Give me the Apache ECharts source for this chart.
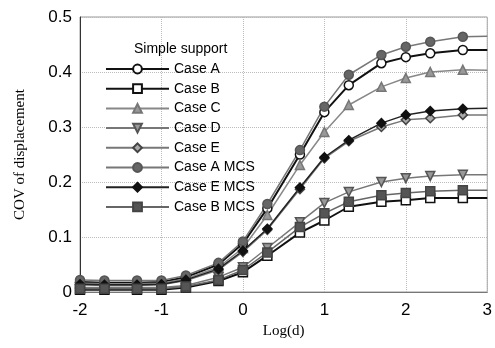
<!DOCTYPE html>
<html>
<head>
<meta charset="utf-8">
<script src="https://cdn.jsdelivr.net/npm/echarts@6/dist/echarts.min.js"></script>
<style>
html,body{margin:0;padding:0;background:#fff;}
#charts{width:495px;height:348px;}
</style>
</head>
<body>
<div id="charts"></div>
<script>
// log(d) positions
var xs = [-2,-1.7,-1.3,-1,-0.7,-0.3,0,0.3,0.7,1,1.3,1.7,2,2.3,2.7,3];
var caseA    = [0.018,0.017,0.017,0.018,0.027,0.050,0.088,0.152,0.250,0.327,0.376,0.416,0.427,0.434,0.440,0.440];
var caseB    = [0.004,0.004,0.004,0.004,0.008,0.020,0.036,0.066,0.108,0.130,0.155,0.164,0.167,0.171,0.171,0.171];
var caseC    = [0.016,0.015,0.015,0.016,0.024,0.045,0.080,0.140,0.231,0.291,0.340,0.373,0.389,0.400,0.404,0.403];
var caseD    = [0.008,0.008,0.008,0.008,0.012,0.027,0.045,0.080,0.127,0.162,0.182,0.200,0.207,0.211,0.213,0.213];
var caseE    = [0.013,0.012,0.012,0.013,0.021,0.040,0.073,0.113,0.187,0.243,0.274,0.300,0.313,0.316,0.322,0.322];
var caseAMCS = [0.022,0.021,0.021,0.021,0.030,0.053,0.092,0.160,0.258,0.337,0.395,0.431,0.446,0.455,0.464,0.465];
var caseEMCS = [0.014,0.013,0.013,0.014,0.022,0.042,0.075,0.115,0.190,0.245,0.276,0.307,0.322,0.329,0.333,0.334];
var caseBMCS = [0.006,0.006,0.006,0.006,0.010,0.022,0.040,0.072,0.118,0.143,0.164,0.176,0.180,0.183,0.185,0.185];
var yTicks = [0,0.1,0.2,0.3,0.4,0.5];
var xTicks = [-2,-1,0,1,2,3];

function pts(arr){
	var out = [];
	for(var i=0;i<xs.length;i++){
		var p = {value:[xs[i],arr[i]]};
		if(i==xs.length-1) p.symbol = 'none'; //last point has no marker
		out.push(p);
	}
	return out;
}

function mk(name,arr,symbol,lineColor,lineW,fill,border){
	return {
		name:name,
		type:'line',
		data:pts(arr),
		symbol:symbol,
		symbolSize:9,
		showAllSymbol:true,
		clip:true,
		lineStyle:{color:lineColor,width:lineW},
		itemStyle:{color:fill,borderColor:border,borderWidth:1.5},
		emphasis:{disabled:true}
	};
}

var downTri = 'path://M0,0 L10,0 L5,9 Z';

var charts = echarts.init(document.getElementById('charts'));
var option = {
	animation:false,
	backgroundColor:'#fff',
	title:{
		text:'Simple support',
		left:129,
		top:37,
		textStyle:{fontFamily:'Liberation Sans, Arial',fontSize:14,fontWeight:'normal',color:'#000'}
	},
	legend:{
		orient:'vertical',
		left:100,
		top:57,
		itemWidth:63,
		itemHeight:11,
		itemGap:5.7,
		textStyle:{fontFamily:'Liberation Sans, Arial',fontSize:14,color:'#000'},
		data:['Case A','Case B','Case C','Case D','Case E','Case A MCS','Case E MCS','Case B MCS']
	},
	grid:{
		left:80,
		right:5,
		top:17,
		bottom:56,
		show:true,
		borderColor:'#999',
		borderWidth:1
	},
	xAxis:{
		type:'value',
		min:xTicks[0],
		max:xTicks[xTicks.length-1],
		interval:1,
		name:'Log(d)',
		nameLocation:'middle',
		nameGap:30,
		nameTextStyle:{fontFamily:'Liberation Serif, Times New Roman',fontSize:15,color:'#000'},
		axisLine:{onZero:false,lineStyle:{color:'#777'}},
		axisTick:{show:false},
		axisLabel:{fontFamily:'Liberation Sans, Arial',fontSize:17,color:'#000',margin:10},
		splitLine:{show:true,lineStyle:{color:'#bbb',type:'dotted'}}
	},
	yAxis:{
		type:'value',
		min:yTicks[0],
		max:yTicks[yTicks.length-1],
		interval:0.1,
		name:'COV of displacement',
		nameLocation:'middle',
		nameGap:52,
		nameTextStyle:{fontFamily:'Liberation Serif, Times New Roman',fontSize:15,color:'#000'},
		axisLine:{show:true,onZero:false,lineStyle:{color:'#333'}},
		axisTick:{show:false},
		axisLabel:{fontFamily:'Liberation Sans, Arial',fontSize:17,color:'#000',margin:8},
		splitLine:{show:true,lineStyle:{color:'#bbb',type:'dotted'}}
	},
	series:[
		mk('Case A',caseA,'circle','#111',2,'#fff','#111'),
		mk('Case B',caseB,'rect','#111',2,'#fff','#111'),
		mk('Case C',caseC,'triangle','#888',1.5,'#999','#777'),
		mk('Case D',caseD,downTri,'#777',1.5,'#999','#555'),
		mk('Case E',caseE,'diamond','#777',1.5,'#aaa','#444'),
		mk('Case A MCS',caseAMCS,'circle','#777',1.5,'#666','#555'),
		mk('Case E MCS',caseEMCS,'diamond','#222',1.5,'#111','#111'),
		mk('Case B MCS',caseBMCS,'rect','#666',1.5,'#555','#444')
	]
};
charts.setOption(option);
</script>
</body>
</html>
